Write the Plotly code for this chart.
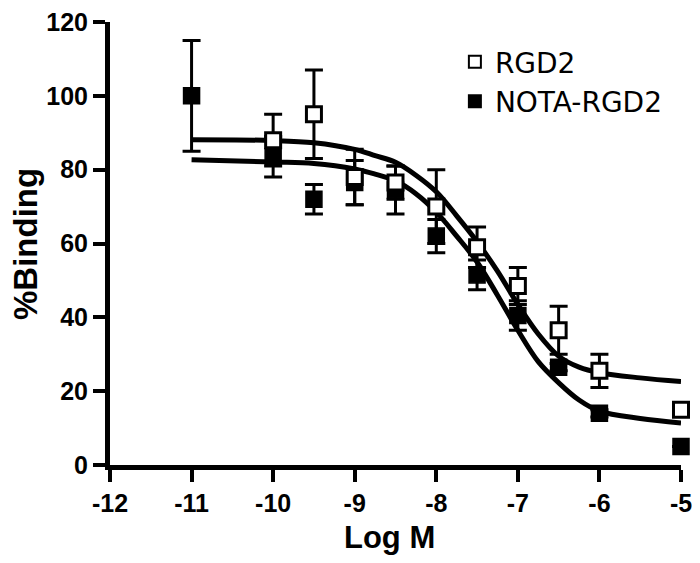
import plotly.graph_objects as go

# ---- data ----
log_m = [-11, -10, -9.5, -9, -8.5, -8, -7.5, -7, -6.5, -6, -5]

rgd2 = [None, 88, 95, 78, 76.5, 70, 59, 48.5, 36.5, 25.5, 15]
rgd2_err = [0, 7, 12, 7.5, 4.5, 10, 5.5, 5, 6.5, 4.5, 0]

nota_rgd2 = [100, 83.5, 72, 76.5, 74.5, 62, 51.5, 40.5, 26.5, 14, 5]
nota_rgd2_err = [15, 5.5, 4, 6, 6.5, 4.5, 4, 4, 1, 1, 0]

# fitted curves
fit_x = [-11, -10, -9.5, -9, -8.75, -8.5, -8.25, -8, -7.75, -7.5, -7.25, -7,
         -6.75, -6.5, -6.25, -6, -5.5, -5]
rgd2_fit = [88.1, 87.9, 87.3, 85.5, 83.8, 82.0, 78.5, 74.0, 67.5, 60.5, 52.5, 43.5,
            35.5, 29.5, 26.5, 25.0, 23.6, 22.6]
nota_fit = [82.7, 82.1, 81.7, 80.2, 78.8, 77.0, 73.5, 68.5, 62.0, 55.0, 46.0, 36.5,
            28.0, 22.3, 17.6, 14.6, 12.6, 11.4]

x_ticks = [-12, -11, -10, -9, -8, -7, -6, -5]
y_ticks = [0, 20, 40, 60, 80, 100, 120]

fig = go.Figure()

fig.add_trace(go.Scatter(x=fit_x, y=rgd2_fit, mode="lines", line=dict(color="black", width=5, shape="spline"),
                         showlegend=False, hoverinfo="skip"))
fig.add_trace(go.Scatter(x=fit_x, y=nota_fit, mode="lines", line=dict(color="black", width=5, shape="spline"),
                         showlegend=False, hoverinfo="skip"))

err_style = dict(type="data", visible=True, color="black", thickness=3, width=9)

fig.add_trace(go.Scatter(
    x=log_m, y=nota_rgd2, mode="markers", name="NOTA-RGD2",
    marker=dict(symbol="square", size=16, color="black", line=dict(color="black", width=1.5)),
    error_y=dict(array=nota_rgd2_err, **err_style), cliponaxis=False))
fig.add_trace(go.Scatter(
    x=log_m, y=rgd2, mode="markers", name="RGD2",
    marker=dict(symbol="square", size=15, color="white", line=dict(color="black", width=3)),
    error_y=dict(array=rgd2_err, **err_style), cliponaxis=False))

axis_common = dict(
    showline=True, linecolor="black", linewidth=5, mirror=False,
    ticks="outside", ticklen=12, tickwidth=4, tickcolor="black",
    showgrid=False, zeroline=False, automargin=False, ticklabeloverflow="allow",
    tickfont=dict(family="Liberation Sans", size=25, color="black", weight="bold"),
)

fig.update_xaxes(range=[-12, -5], tickvals=x_ticks, ticktext=[str(v) for v in x_ticks], **axis_common)
fig.update_yaxes(range=[0, 120], tickvals=y_ticks, **axis_common)

fig.add_annotation(text="<b>Log M</b>", xref="paper", yref="paper", x=0.49, y=-0.163,
                   xanchor="center", yanchor="middle", showarrow=False,
                   font=dict(family="Liberation Sans", size=31, color="black"))
fig.add_annotation(text="<b>%Binding</b>", xref="paper", yref="paper", x=-0.148, y=0.5,
                   xanchor="center", yanchor="middle", showarrow=False, textangle=-90,
                   font=dict(family="Liberation Sans", size=33, color="black"))

# the page places the figure 8 px in from the top-left corner, so the size and
# margins are reduced to keep the plot area where the reference has it
fig.update_layout(
    width=684, height=547,
    margin=dict(l=102, r=11, t=14, b=90),
    plot_bgcolor="white", paper_bgcolor="white",
    legend=dict(x=0.604, y=0.966, xanchor="left", yanchor="top", traceorder="reversed",
                font=dict(family="DejaVu Sans", size=28, color="black"),
                itemsizing="constant", tracegroupgap=0, bgcolor="rgba(0,0,0,0)"),
    showlegend=True,
)

fig.write_html("out.html")
